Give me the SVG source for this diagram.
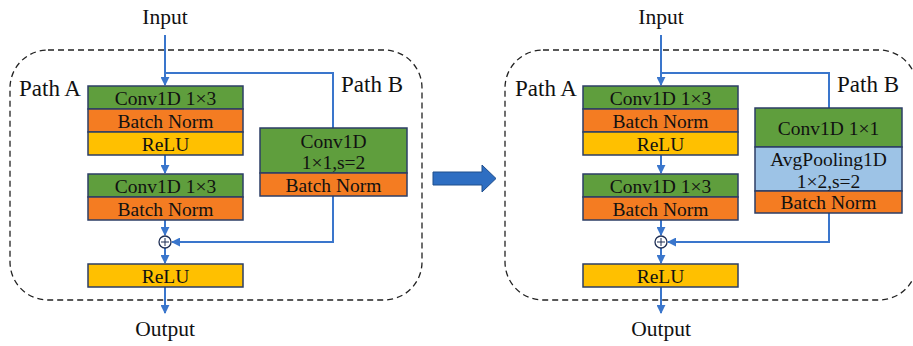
<svg xmlns="http://www.w3.org/2000/svg" width="913" height="346" viewBox="0 0 913 346">
<style>
text{font-family:"Liberation Serif","Times New Roman",serif;fill:#111;text-anchor:middle}
.t{font-size:19.5px}
.lbl{font-size:21.5px}
.path{font-size:23px;text-anchor:start}
.g{fill:#5F9E3D}.o{fill:#F47C22}.y{fill:#FFC000}.b{fill:#9DC3E6}
.cell{stroke:#2C3E66;stroke-width:1.5}
.frame{fill:none;stroke:#222;stroke-width:1.3;stroke-dasharray:6 4}
.c{fill:none;stroke:#3A76CC;stroke-width:2}
.sum{fill:#fff;stroke:#1F2F55;stroke-width:1.3}
</style>
<defs>
<marker id="ah" viewBox="0 0 10 10" refX="9" refY="5" markerWidth="4.5" markerHeight="4.5" orient="auto" markerUnits="strokeWidth">
<path d="M0,0 L10,5 L0,10 z" fill="#3A76CC"/>
</marker>
</defs>
<rect width="913" height="346" fill="#fff"/>

<g id="frames">
<rect class="frame" x="10" y="50" width="412" height="250" rx="38" ry="38"/>
<rect class="frame" x="505" y="50" width="412" height="250" rx="38" ry="38"/>
</g>

<g id="connectors">
<path class="c" d="M165,35 V85" marker-end="url(#ah)"/>
<path class="c" d="M165,73 H333 V128"/>
<path class="c" d="M165,155 V173" marker-end="url(#ah)"/>
<path class="c" d="M165,220 V235" marker-end="url(#ah)"/>
<path class="c" d="M333,196 V242 H172" marker-end="url(#ah)"/>
<path class="c" d="M165,248 V263" marker-end="url(#ah)"/>
<path class="c" d="M165,287 V313" marker-end="url(#ah)"/>
<path class="c" d="M661,35 V85" marker-end="url(#ah)"/>
<path class="c" d="M661,73 H829 V108"/>
<path class="c" d="M661,155 V173" marker-end="url(#ah)"/>
<path class="c" d="M661,220 V235" marker-end="url(#ah)"/>
<path class="c" d="M829,213 V242 H668" marker-end="url(#ah)"/>
<path class="c" d="M661,248 V263" marker-end="url(#ah)"/>
<path class="c" d="M661,287 V313" marker-end="url(#ah)"/>
</g>

<g id="bigArrow">
<path d="M433,172 H482 V165 L496,178.5 L482,192 V185 H433 Z" fill="#2E6EC2" stroke="#1F4E8C" stroke-width="1"/>
</g>

<g id="L-input"><text class="lbl" x="165" y="24">Input</text></g>
<g id="L-output"><text class="lbl" x="165" y="336">Output</text></g>
<g id="L-pathA"><text class="path" x="19" y="96">Path A</text></g>
<g id="L-pathB"><text class="path" x="341" y="92">Path B</text></g>

<g id="L-block1">
<rect class="cell g" x="88" y="86" width="155" height="23"/>
<rect class="cell o" x="88" y="109" width="155" height="23"/>
<rect class="cell y" x="88" y="132" width="155" height="23"/>
<text class="t" x="165.5" y="104.5">Conv1D 1×3</text>
<text class="t" x="165.5" y="127.5">Batch Norm</text>
<text class="t" x="165.5" y="150.5">ReLU</text>
</g>
<g id="L-block2">
<rect class="cell g" x="88" y="174" width="155" height="23"/>
<rect class="cell o" x="88" y="197" width="155" height="23"/>
<text class="t" x="165.5" y="192.5">Conv1D 1×3</text>
<text class="t" x="165.5" y="215.5">Batch Norm</text>
</g>
<g id="L-sum">
<circle class="sum" cx="165" cy="242" r="6"/>
<path d="M161,242 H169 M165,238 V246" stroke="#1F2F55" stroke-width="1"/>
</g>
<g id="L-relu">
<rect class="cell y" x="88" y="264" width="155" height="23"/>
<text class="t" x="165.5" y="282.5">ReLU</text>
</g>
<g id="L-blockB">
<rect class="cell g" x="260" y="128" width="147" height="45"/>
<rect class="cell o" x="260" y="173" width="147" height="23"/>
<text class="t" x="333.5" y="148">Conv1D</text>
<text class="t" x="333.5" y="169">1×1,s=2</text>
<text class="t" x="333.5" y="191.5">Batch Norm</text>
</g>

<g id="R-input"><text class="lbl" x="661" y="24">Input</text></g>
<g id="R-output"><text class="lbl" x="661" y="336">Output</text></g>
<g id="R-pathA"><text class="path" x="515" y="96">Path A</text></g>
<g id="R-pathB"><text class="path" x="837" y="92">Path B</text></g>

<g id="R-block1">
<rect class="cell g" x="583" y="86" width="155" height="23"/>
<rect class="cell o" x="583" y="109" width="155" height="23"/>
<rect class="cell y" x="583" y="132" width="155" height="23"/>
<text class="t" x="660.5" y="104.5">Conv1D 1×3</text>
<text class="t" x="660.5" y="127.5">Batch Norm</text>
<text class="t" x="660.5" y="150.5">ReLU</text>
</g>
<g id="R-block2">
<rect class="cell g" x="583" y="174" width="155" height="23"/>
<rect class="cell o" x="583" y="197" width="155" height="23"/>
<text class="t" x="660.5" y="192.5">Conv1D 1×3</text>
<text class="t" x="660.5" y="215.5">Batch Norm</text>
</g>
<g id="R-sum">
<circle class="sum" cx="661" cy="242" r="6"/>
<path d="M657,242 H665 M661,238 V246" stroke="#1F2F55" stroke-width="1"/>
</g>
<g id="R-relu">
<rect class="cell y" x="583" y="264" width="155" height="23"/>
<text class="t" x="660.5" y="282.5">ReLU</text>
</g>
<g id="R-blockB">
<rect class="cell g" x="755" y="108" width="147" height="39"/>
<rect class="cell b" x="755" y="147" width="147" height="44"/>
<rect class="cell o" x="755" y="191" width="147" height="22"/>
<text class="t" x="828.5" y="134.5">Conv1D 1×1</text>
<text class="t" x="828.5" y="165.5">AvgPooling1D</text>
<text class="t" x="828.5" y="187.5">1×2,s=2</text>
<text class="t" x="828.5" y="208.5">Batch Norm</text>
</g>
</svg>
